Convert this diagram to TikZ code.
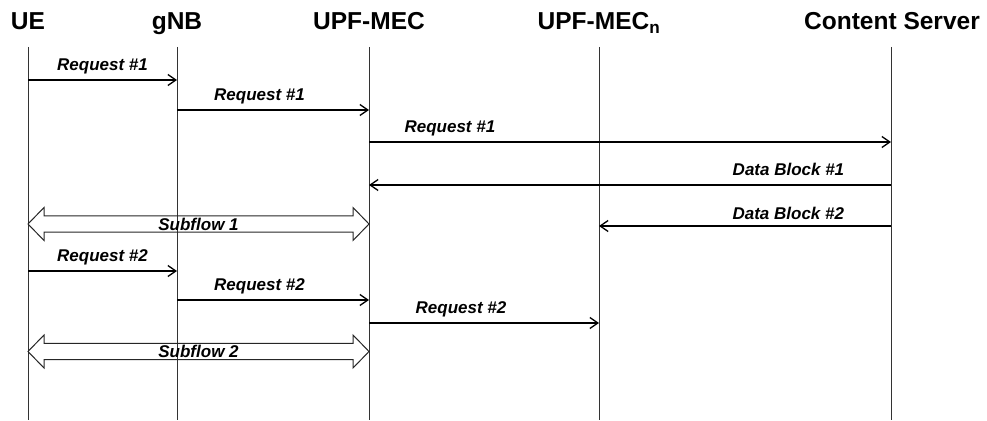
\documentclass[tikz,border=0pt]{standalone}
\usepackage{fontspec}
\setmainfont{Liberation Sans}
\usetikzlibrary{arrows.meta,calc}
\begin{document}
\begin{tikzpicture}[x=1pt,y=-1pt,
	head/.style={font=\bfseries\fontsize{24.5}{28}\selectfont,anchor=base},
	lbl/.style={font=\bfseries\itshape\fontsize{17}{20}\selectfont},
	life/.style={draw=black!80,line width=1pt},
	msg/.style={-{Straight Barb[length=8pt,width=11pt]},line width=1.3pt},
	subflow/.style={draw=black!85,line width=1pt}]
	\useasboundingbox (0,0) rectangle (987,420);
	% participants
	\node[head] (ue) at (28,30) {UE};
	\node[head] (gnb) at (177,30) {gNB};
	\node[head] (upf) at (369,30) {UPF-MEC};
	\node[head] (upfn) at (599,30) {UPF-MEC\textsubscript{n}};
	\node[head] (cs) at (892,30) {Content Server};
	% lifelines
	\coordinate (uetop) at (28,47);
	\coordinate (gnbtop) at (177,47);
	\coordinate (upftop) at (369,47);
	\coordinate (upfntop) at (599,47);
	\coordinate (cstop) at (891,47);
	\foreach \p in {ue,gnb,upf,upfn,cs}
		\draw[life] (\p top) -- ++(0,373);
	% first round
	\draw[msg] ($(uetop)+(0,33)$) -- node[lbl,above=2pt]{Request \#1} ($(gnbtop)+(0,33)$);
	\draw[msg] ($(gnbtop)+(0,63)$) -- node[lbl,above=2pt,pos=0.43]{Request \#1} ($(upftop)+(0,63)$);
	\draw[msg] ($(upftop)+(0,95)$) -- node[lbl,above=2pt,pos=0.155]{Request \#1} ($(cstop)+(0,95)$);
	\draw[msg] ($(cstop)+(0,138)$) -- node[lbl,anchor=south east,pos=0.082,yshift=5pt]{Data Block \#1} ($(upftop)+(0,138)$);
	\draw[msg] ($(cstop)+(0,179)$) -- node[lbl,anchor=south east,pos=0.147,yshift=2pt]{Data Block \#2} ($(upfntop)+(0,179)$);
	% second round
	\draw[msg] ($(uetop)+(0,224)$) -- node[lbl,above=2pt]{Request \#2} ($(gnbtop)+(0,224)$);
	\draw[msg] ($(gnbtop)+(0,253)$) -- node[lbl,above=2pt,pos=0.43]{Request \#2} ($(upftop)+(0,253)$);
	\draw[msg] ($(upftop)+(0,276)$) -- node[lbl,above=2pt,pos=0.4]{Request \#2} ($(upfntop)+(0,276)$);
	% subflows
	\foreach \i/\y in {1/177,2/304.5}{
		\coordinate (s\i a) at ($(uetop)+(0,\y)$);
		\coordinate (s\i b) at ($(upftop)+(0,\y)$);
		\draw[subflow] (s\i a) -- ++(16,-16.5) -- ++(0,8.3) -- ($(s\i b)+(-16,-8.2)$)
			-- ++(0,-8.3) -- (s\i b) -- ++(-16,16.5) -- ++(0,-8.3)
			-- ($(s\i a)+(16,8.2)$) -- ++(0,8.3) -- cycle;
		\node[lbl] at ($(s\i a)!0.5!(s\i b)$) {Subflow \i};
	}
\end{tikzpicture}
\end{document}
